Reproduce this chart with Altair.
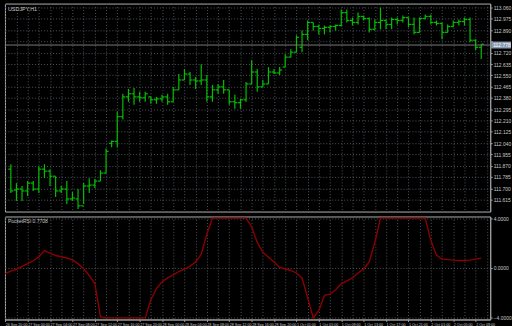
import json
import altair as alt
import pandas as pd

# ---------------- data ----------------
bar_no = list(range(85))
opens = [111.844, 111.687, 111.694, 111.680, 111.739, 111.694, 111.844, 111.829, 111.791, 111.680,
         111.694, 111.620, 111.620, 111.568, 111.717, 111.724, 111.754, 111.814, 112.038, 112.053,
         112.239, 112.388, 112.411, 112.388, 112.381, 112.388, 112.366, 112.373, 112.388, 112.351,
         112.441, 112.515, 112.560, 112.515, 112.508, 112.515, 112.388, 112.441, 112.463, 112.441,
         112.351, 112.344, 112.366, 112.485, 112.575, 112.463, 112.485, 112.575, 112.568, 112.612,
         112.687, 112.724, 112.761, 112.858, 112.948, 112.918, 112.903, 112.911, 112.918, 112.925,
         113.022, 112.963, 112.948, 112.993, 112.978, 112.896, 112.948, 112.963, 112.933, 112.970,
         112.963, 112.985, 112.933, 112.873, 112.978, 112.993, 112.948, 112.940, 112.873, 112.918,
         112.948, 112.955, 112.970, 112.814, 112.761]
highs = [111.881, 111.739, 111.717, 111.754, 111.754, 111.866, 111.881, 111.844, 111.791, 111.717,
         111.754, 111.672, 111.694, 111.739, 111.776, 111.769, 111.836, 112.000, 112.060, 112.276,
         112.411, 112.448, 112.455, 112.426, 112.426, 112.388, 112.388, 112.403, 112.411, 112.463,
         112.560, 112.597, 112.575, 112.537, 112.634, 112.552, 112.478, 112.485, 112.515, 112.441,
         112.403, 112.373, 112.500, 112.664, 112.597, 112.515, 112.612, 112.597, 112.612, 112.709,
         112.746, 112.851, 112.888, 112.963, 112.948, 112.933, 112.925, 112.925, 112.933, 113.045,
         113.045, 112.985, 113.022, 113.000, 112.985, 112.970, 113.060, 112.970, 112.985, 112.985,
         113.000, 112.985, 112.985, 112.985, 113.007, 113.007, 112.963, 112.948, 112.933, 112.963,
         112.970, 112.985, 112.985, 112.821, 112.784]
lows = [111.665, 111.605, 111.605, 111.642, 111.680, 111.665, 111.776, 111.717, 111.635, 111.665,
        111.582, 111.605, 111.545, 111.582, 111.665, 111.702, 111.754, 111.814, 112.008, 112.008,
        112.217, 112.351, 112.329, 112.351, 112.351, 112.336, 112.336, 112.351, 112.329, 112.351,
        112.441, 112.515, 112.478, 112.448, 112.478, 112.351, 112.351, 112.411, 112.411, 112.329,
        112.299, 112.299, 112.351, 112.485, 112.426, 112.463, 112.485, 112.560, 112.552, 112.612,
        112.687, 112.724, 112.724, 112.814, 112.888, 112.858, 112.858, 112.873, 112.888, 112.918,
        112.948, 112.925, 112.933, 112.963, 112.873, 112.888, 112.896, 112.896, 112.896, 112.933,
        112.948, 112.911, 112.858, 112.873, 112.970, 112.933, 112.925, 112.821, 112.873, 112.911,
        112.925, 112.925, 112.799, 112.739, 112.672]
closes = [111.680, 111.694, 111.680, 111.739, 111.694, 111.844, 111.829, 111.791, 111.680, 111.694,
          111.620, 111.627, 111.568, 111.717, 111.724, 111.754, 111.814, 111.978, 112.053, 112.239,
          112.388, 112.411, 112.388, 112.381, 112.411, 112.366, 112.373, 112.388, 112.351, 112.441,
          112.515, 112.560, 112.515, 112.508, 112.515, 112.388, 112.441, 112.463, 112.441, 112.351,
          112.344, 112.366, 112.485, 112.575, 112.463, 112.485, 112.575, 112.568, 112.590, 112.687,
          112.724, 112.836, 112.858, 112.948, 112.918, 112.903, 112.911, 112.918, 112.925, 113.022,
          112.963, 112.948, 112.993, 112.978, 112.896, 112.948, 112.963, 112.933, 112.970, 112.963,
          112.985, 112.933, 112.873, 112.978, 112.993, 112.948, 112.940, 112.873, 112.918, 112.948,
          112.955, 112.970, 112.814, 112.761, 112.784]

ind_no = list(range(-1, 85))
ind_vals = [-0.45, -0.25, -0.10, 0.12, 0.35, 0.58, 0.90, 1.40, 1.20, 1.00,
            0.90, 0.80, 0.65, 0.35, -0.05, -0.60, -1.25, -3.90, -4.0, -4.0,
            -4.0, -4.0, -4.0, -4.0, -4.0, -4.0, -2.55, -1.65, -1.10, -0.80,
            -0.55, -0.30, -0.10, 0.15, 0.48, 1.10, 2.70, 4.0, 4.0, 4.0,
            4.0, 4.0, 4.0, 4.0, 3.30, 2.05, 1.27, 0.87, 0.48, 0.04,
            -0.08, -0.20, -0.40, -0.80, -2.40, -4.0, -3.40, -2.20, -2.10, -1.75,
            -1.27, -1.03, -0.80, -0.40, -0.08, 0.48, 2.06, 4.0, 4.0, 4.0,
            4.0, 4.0, 4.0, 4.0, 4.0, 4.0, 2.20, 1.03, 0.71, 0.67,
            0.63, 0.60, 0.60, 0.63, 0.71, 0.79]

price_ticks = [113.060, 112.975, 112.890, 112.805, 112.720, 112.635, 112.550, 112.465, 112.380,
               112.295, 112.210, 112.125, 112.040, 111.955, 111.870, 111.785, 111.700, 111.615]
ind_ticks = [-4.0, 0.0, 4.0]
bid = [112.778]
time_labels = ["26 Sep 20:00", "27 Sep 00:00", "27 Sep 04:00", "27 Sep 08:00", "27 Sep 12:00",
               "27 Sep 16:00", "27 Sep 20:00", "28 Sep 00:00", "28 Sep 04:00", "28 Sep 08:00",
               "28 Sep 12:00", "28 Sep 16:00", "28 Sep 20:00", "1 Oct 01:00", "1 Oct 05:00",
               "1 Oct 09:00", "1 Oct 13:00", "1 Oct 17:00", "1 Oct 21:00", "2 Oct 01:00",
               "2 Oct 05:00", "2 Oct 09:00"]
symbol_title = "USDJPY,H1"
ind_title = "PocketRSI 0.7708"

# ---------------- style ----------------
GREEN = "#00c000"
RED = "#8b0000"
GRID = "#50565c"
AXC = "#a0a0a0"
TXT = "#c8c8c8"
FONT = "Liberation Sans"
W, H1, H2 = 490, 210, 104

grid_vals = list(range(-1, 87, 2))
xscale = alt.Scale(domain=[-1.05, 85.6], nice=False, zero=False)
yscale = alt.Scale(domain=[111.525, 113.090], nice=False, zero=False)
iscale = alt.Scale(domain=[-4.13, 4.13], nice=False, zero=False)

df = pd.DataFrame({"i": bar_no, "o": opens, "h": highs, "l": lows, "c": closes})
di = pd.DataFrame({"i": ind_no, "v": ind_vals})
db = pd.DataFrame({"p": bid})

top_x_axis = alt.Axis(values=grid_vals, labels=False, ticks=False, domain=False, grid=True,
                      gridDash=[1, 2], gridColor=GRID, gridWidth=1, title=None)
hide_bid_lbl = f"abs(datum.value - {bid[0]}) < 0.04 ? '' : format(datum.value, '.3f')"
top_y_axis = alt.Axis(orient="right", values=price_ticks, labelExpr=hide_bid_lbl, grid=True,
                      gridDash=[1, 2], gridColor=GRID, domain=True, domainColor=AXC, ticks=True,
                      tickSize=2, tickColor=AXC, labelColor=TXT, labelFontSize=5, labelFont=FONT,
                      labelPadding=1, labelOverlap=False, labelFlush=False, labelBound=False,
                      title=None)

base = alt.Chart(df)
hl = base.mark_rule(color=GREEN, strokeWidth=1.2).encode(
    x=alt.X("i:Q", scale=xscale, axis=top_x_axis),
    y=alt.Y("h:Q", scale=yscale, axis=top_y_axis),
    y2="l:Q",
)
op = base.transform_calculate(xo="datum.i - 0.45").mark_rule(color=GREEN, strokeWidth=1.2).encode(
    x=alt.X("xo:Q", scale=xscale, axis=top_x_axis), x2="i:Q",
    y=alt.Y("o:Q", scale=yscale, axis=top_y_axis)
)
cl = base.transform_calculate(xc="datum.i + 0.45").mark_rule(color=GREEN, strokeWidth=1.2).encode(
    x=alt.X("i:Q", scale=xscale, axis=top_x_axis), x2="xc:Q",
    y=alt.Y("c:Q", scale=yscale, axis=top_y_axis)
)
bid_line = alt.Chart(db).mark_rule(color="#7a7a7a", strokeWidth=1).encode(
    y=alt.Y("p:Q", scale=yscale, axis=top_y_axis)
)
bid_box = alt.Chart(db).transform_calculate(
    p1="datum.p + 0.026", p2="datum.p - 0.026"
).mark_rect(color="#8a9bb0").encode(
    x=alt.value(W + 1), x2=alt.value(W + 21),
    y=alt.Y("p1:Q", scale=yscale, axis=top_y_axis), y2="p2:Q",
)
bid_text = alt.Chart(db).mark_text(align="left", baseline="middle", fontSize=5, font=FONT,
                                   color="#ffffff").encode(
    x=alt.value(W + 3), y=alt.Y("p:Q", scale=yscale, axis=top_y_axis),
    text=alt.Text("p:Q", format=".3f")
)
title1 = alt.Chart(pd.DataFrame({"t": [symbol_title]})).mark_text(
    align="left", baseline="middle", fontSize=5.5, font=FONT, color=TXT
).encode(x=alt.value(3), y=alt.value(5), text="t:N")

top = alt.layer(hl, op, cl, bid_line, bid_box, bid_text, title1).properties(width=W, height=H1)

lab_js = json.dumps(time_labels)
bot_x_axis = alt.Axis(values=grid_vals, grid=True, gridDash=[1, 2], gridColor=GRID,
                      labelExpr=f"((datum.value + 1) % 4 == 0) ? {lab_js}[(datum.value + 1) / 4] : ''",
                      labelAlign="left", labelFontSize=3.7, labelFont=FONT, labelColor=TXT,
                      labelPadding=1, labelOverlap=False, labelFlush=False, labelBound=False,
                      tickSize=2, tickColor=AXC,
                      tickOpacity={"condition": {"test": "(datum.value + 1) % 4 == 0", "value": 1}, "value": 0},
                      domain=True, domainColor=AXC, title=None)
bot_y_axis = alt.Axis(orient="right", values=ind_ticks, format=".4f", grid=True, gridDash=[1, 2],
                      gridColor=GRID, domain=True, domainColor=AXC, tickSize=2, tickColor=AXC,
                      labelColor=TXT, labelFontSize=5, labelFont=FONT, labelPadding=1,
                      labelOverlap=False, labelFlush=False, title=None)
line = alt.Chart(di).mark_line(color=RED, strokeWidth=1.4).encode(
    x=alt.X("i:Q", scale=xscale, axis=bot_x_axis),
    y=alt.Y("v:Q", scale=iscale, axis=bot_y_axis),
)
title2 = alt.Chart(pd.DataFrame({"t": [ind_title]})).mark_text(
    align="left", baseline="middle", fontSize=5, font=FONT, color=TXT
).encode(x=alt.value(3), y=alt.value(5), text="t:N")
bottom = alt.layer(line, title2).properties(width=W, height=H2)

chart = alt.vconcat(top, bottom, spacing=2).properties(
    background="#000000", padding={"left": 1, "top": 1, "right": 0, "bottom": 0}
).configure_view(stroke="#b0b0b0", strokeWidth=1).configure_concat(spacing=2)

chart.save("out.html", embed_options={"renderer": "svg", "actions": False})
